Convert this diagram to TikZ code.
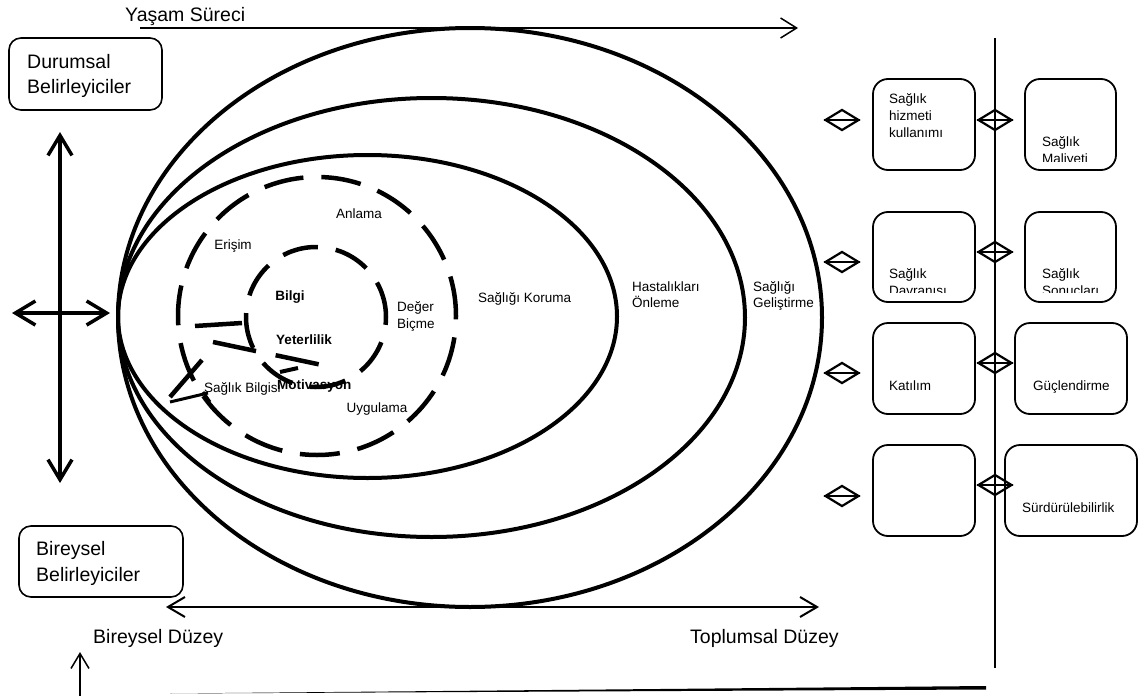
\documentclass[tikz,border=0pt]{standalone}
\usepackage{fontspec}
\setmainfont{Liberation Sans}
\usepackage{tikz}
\usetikzlibrary{shapes, arrows.meta, calc, positioning}
\newcommand{\hlbigfont}{\fontsize{19.5}{25}\selectfont}
\newcommand{\hlmidfont}{\fontsize{13.5}{16.5}\selectfont}
\newcommand{\hlboxfont}{\fontsize{13.5}{17}\selectfont}

\begin{document}
\begin{tikzpicture}[x=1pt,y=-1pt,
    ring/.style={line width=4pt},
    dashring/.style={line width=4.5pt,dash pattern=on 40pt off 18pt},
    sidebox/.style={draw,line width=1.6pt,rounded corners=12pt,inner sep=0pt},
    outbox/.style={draw,line width=1.8pt,rounded corners=15pt,inner sep=0pt,minimum height=91pt},
    link/.style={draw,diamond,line width=2.2pt,minimum width=34pt,minimum height=21pt,inner sep=0pt},
    txt/.style={anchor=base west,inner sep=0pt,align=left},
    ctxt/.style={anchor=base,inner sep=0pt}]
  \useasboundingbox (0,0) rectangle (1141,696);

  % nested circles of the model
  \draw[ring] (470,317.5) ellipse [x radius=352pt, y radius=289.5pt];
  \draw[ring] (431.5,317.5) ellipse [x radius=313.5pt, y radius=219.5pt];
  \draw[ring] (367.5,316.5) ellipse [x radius=249.5pt, y radius=161.5pt];
  \draw[dashring] (317,316) circle [radius=139pt];
  \draw[dashring,dash pattern=on 36pt off 18pt] (316,317) circle [radius=70pt];

  % loose strokes round Saglik Bilgisi
  \draw[line width=4.5pt] (195,326) -- (242,323);
  \draw[dashring,dash pattern=on 44pt off 20pt] (213,342) -- (322,365);
  \draw[line width=4.5pt] (170,397) -- (202,360);
  \draw[line width=3pt] (170,402) -- (208,393);
  \draw[line width=3pt] (203,392) -- (210,402);
  \draw[line width=4pt] (280,372) -- (298,368);

  % texts inside the circles
  \begin{scope}[every node/.style={font=\hlmidfont}]
    \node[ctxt] (anlama) at (359,218) {Anlama};
    \node[ctxt] (erisim) at (233,249) {Erişim};
    \node[ctxt,font=\hlmidfont\bfseries] (bilgi) at (290,300) {Bilgi};
    \node[ctxt,font=\hlmidfont\bfseries] (yeter) at (304,344) {Yeterlilik};
    \node[txt] (deger) at (397,311) {Değer};
    \node[txt] (bicme) at (397,328) {Biçme};
    \node[txt] (sbilgi) at (204,392) {Sağlık Bilgisi};
    \node[txt,font=\hlmidfont\bfseries] (motiv) at (277,389) {Motivasyon};
    \node[ctxt] (uygula) at (377,412) {Uygulama};
    \node[txt] (koruma) at (478,302) {Sağlığı Koruma};
    \node[txt] (onleme) at (632,307) {Hastalıkları\\[-0.5pt]Önleme};
    \node[txt] (gelis) at (753,307) {Sağlığı\\[-0.5pt]Geliştirme};
  \end{scope}

  % axes
  \coordinate (life_l) at (140,28);
  \coordinate (life_r) at (798,28);
  \draw[line width=1.5pt,-{Straight Barb[length=16pt,width=20pt]}] (life_l) -- (life_r);
  \node[txt,font=\hlbigfont] (life) at (125,21.5) {Yaşam Süreci};

  \coordinate (lvl_l) at (166,607);
  \coordinate (lvl_r) at (819,607);
  \draw[line width=2pt,{Straight Barb[length=17pt,width=20pt]}-{Straight Barb[length=17pt,width=20pt]}] (lvl_l) -- (lvl_r);
  \node[txt,font=\hlbigfont] (bdzy) at (93,643) {Bireysel Düzey};
  \node[txt,font=\hlbigfont] (tdzy) at (690,643) {Toplumsal Düzey};

  \coordinate (v_t) at (60,132);
  \coordinate (v_b) at (60,483);
  \coordinate (h_l) at (12,313);
  \coordinate (h_r) at (110,313);
  \draw[line width=3.5pt,{Straight Barb[length=20pt,width=24pt]}-{Straight Barb[length=20pt,width=24pt]}] (v_t) -- (v_b);
  \draw[line width=3.5pt,{Straight Barb[length=20pt,width=24pt]}-{Straight Barb[length=20pt,width=24pt]}] (h_l) -- (h_r);

  \coordinate (up_b) at (80,697);
  \coordinate (up_t) at (80,652);
  \draw[line width=1.5pt,-{Straight Barb[length=15pt,width=18pt]}] (up_b) -- (up_t);
  \fill (170,693.5) -- (986,686) -- (986,689.5) -- cycle;

  % determinant boxes
  \node[sidebox,minimum width=153pt,minimum height=72pt] (durum) at (85.5,74) {};
  \node[txt,font=\hlbigfont] at (27,68) {Durumsal};
  \node[txt,font=\hlbigfont] at (27,93) {Belirleyiciler};
  \node[sidebox,minimum width=164pt,minimum height=71pt] (birey) at (101,561.5) {};
  \node[txt,font=\hlbigfont] at (36,555) {Bireysel};
  \node[txt,font=\hlbigfont] at (36,581) {Belirleyiciler};

  % outcome column
  \coordinate (axis_t) at (995,38);
  \coordinate (axis_b) at (995,668);
  \draw[line width=2pt] (axis_t) -- (axis_b);

  \node[outbox,minimum width=102pt] (hizmet) at (924,124.5) {};
  \node[outbox,minimum width=102pt,minimum height=90pt] (davran) at (924,257) {};
  \node[outbox,minimum width=102pt] (katilim) at (924,368.5) {};
  \node[outbox,minimum width=102pt] (bos) at (924,490.5) {};
  \node[outbox,minimum width=91pt] (maliyet) at (1070.5,124.5) {};
  \node[outbox,minimum width=91pt,minimum height=90pt] (sonuc) at (1070.5,257) {};
  \node[outbox,minimum width=112pt] (guc) at (1071,368.5) {};
  \node[outbox,minimum width=132pt] (surdur) at (1071,490.5) {};

  \begin{scope}[every node/.style={txt,font=\hlboxfont}]
    \node at (889,137) {Sağlık\\hizmeti\\kullanımı};
    \node at (889,390) {Katılım};
    \node at (1033,390) {Güçlendirme};
    \node at (1022,512) {Sürdürülebilirlik};
  \end{scope}
  \begin{scope}
    \clip (1027,80) rectangle (1114,161);
    \node[txt,font=\hlboxfont] at (1042,163) {Sağlık\\Maliyeti};
  \end{scope}
  \begin{scope}
    \clip (875,213) rectangle (973,292);
    \node[txt,font=\hlboxfont] at (889,295) {Sağlık\\Davranışı};
  \end{scope}
  \begin{scope}
    \clip (1027,213) rectangle (1114,292);
    \node[txt,font=\hlboxfont] at (1042,295) {Sağlık\\Sonuçları};
  \end{scope}

  % diamond links
  \foreach \ly [count=\i] in {120,262,373,496}
    \node[link] (dl\i) at (842,\ly) {};
  \foreach \ry [count=\i] in {120,252,363,485}
    \node[link] (dr\i) at (995,\ry) {};
  \foreach \i in {1,...,4} {
    \draw[line width=1.4pt] (dl\i.west) -- (dl\i.east);
    \draw[line width=1.4pt] (dr\i.west) -- (dr\i.east);
  }
\end{tikzpicture}
\end{document}
